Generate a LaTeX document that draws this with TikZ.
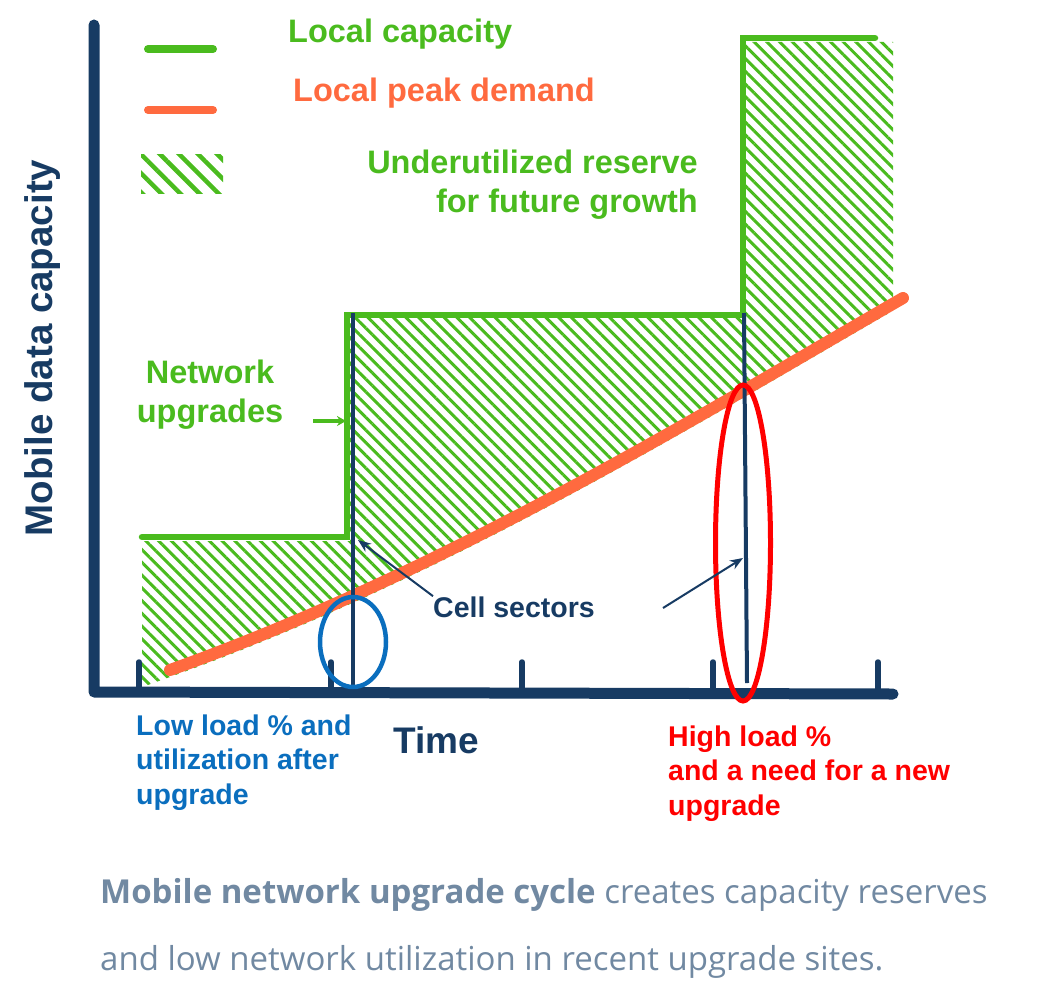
\documentclass[tikz,border=0pt]{standalone}
\usepackage{fontspec}
\setmainfont{Liberation Sans}
\newfontfamily\capfont{Open Sans}
\usetikzlibrary{arrows.meta,patterns.meta,shapes.geometric}
\definecolor{capgreen}{HTML}{4ABB1E}
\definecolor{peakorange}{HTML}{FF6A3F}
\definecolor{axisnavy}{HTML}{173B63}
\definecolor{lowblue}{HTML}{0A6EBE}
\definecolor{highred}{HTML}{FF0000}
\definecolor{captiongray}{HTML}{7189A2}
\begin{document}
\begin{tikzpicture}
[x=1pt,y=-1pt,
legendtext/.style={font=\fontsize{32.5}{39}\selectfont\bfseries,inner sep=0pt},
notetext/.style={font=\fontsize{28.5}{34.5}\selectfont\bfseries,inner sep=0pt,align=left},
axisline/.style={axisnavy,line width=11pt,line cap=round,line join=round},
tickline/.style={axisnavy,line width=5.5pt,line cap=round},
capline/.style={capgreen,line width=6.5pt,line cap=round},
peakline/.style={peakorange,line width=12pt,line cap=round},
reserve/.style={pattern={Lines[angle=-45,distance=9pt,line width=3pt]},pattern color=capgreen},
sector/.style={axisnavy,line width=4pt},
pointer/.style={axisnavy,line width=2pt,-{Stealth[length=13pt,width=10pt]}},
ring/.style={draw,ellipse,inner sep=0pt}]
\useasboundingbox (0,0) rectangle (1056,1006);
% legend
\draw[capgreen,line width=8pt,line cap=round] (148,49) -- (213,49);
\draw[peakorange,line width=8pt,line cap=round] (148,110) -- (213,110);
\fill[pattern={Lines[angle=-45,distance=13.5pt,line width=4.5pt]},pattern color=capgreen]
  (141,154) rectangle (223,193);
\node[legendtext,text=capgreen,anchor=base west] (capkey) at (288,43) {Local capacity};
\node[legendtext,text=peakorange,anchor=base west] (peakkey) at (293,102) {Local peak demand};
\node[legendtext,text=capgreen,anchor=base east,align=right] (reservekey) at (698,212)
  {Underutilized reserve\\for future growth};
% reserve above the demand curve
\begin{scope}
\clip (120,0) -- (120,695) -- (170,677) .. controls (450,577) and (700,422) .. (903,305)
  -- (920,0) -- cycle;
\fill[reserve] (142,541) -- (350,541) -- (350,318) -- (745,318) -- (745,42)
  -- (893,42) -- (893,720) -- (142,720) -- cycle;
\end{scope}
% axes
\draw[axisline] (94,25) -- (94,692) -- (893,694);
\foreach \tx in {139,331,522,713,878}
  \draw[tickline] (\tx,662) -- (\tx,692);
\draw[capline] (142,537) -- (347,537) -- (347,315) -- (743,315) -- (743,38) -- (875,38);
\draw[peakline] (170,670) .. controls (450,570) and (700,415) .. (903,298);
% cell sectors
\coordinate (sec1top) at (353,313);
\coordinate (sec1bot) at (353,690);
\coordinate (sec2top) at (744,313);
\coordinate (sec2bot) at (747,683);
\draw[sector] (sec1top) -- (sec1bot);
\draw[sector] (sec2top) -- (sec2bot);
\node[ring,draw=lowblue,line width=4.5pt,minimum width=66pt,minimum height=90pt] (lowring) at (353,642) {};
\node[ring,draw=highred,line width=5pt,minimum width=55pt,minimum height=316pt] (highring) at (743,543) {};
\node[notetext,text=axisnavy,anchor=base west] (cells) at (433,617) {Cell sectors};
\coordinate (sec1tip) at (358,540);
\coordinate (sec2tail) at (663,608);
\coordinate (sec2tip) at (743,558);
\draw[pointer] (cells.north west) -- (sec1tip);
\draw[pointer] (sec2tail) -- (sec2tip);
% labels
\node[legendtext,text=capgreen,align=center,anchor=base] (upgradetext) at (210,422) {Network\\upgrades};
\coordinate (upgradetail) at (313,421);
\coordinate (upgradetip) at (346,421);
\draw[capgreen,line width=3.5pt,-{Stealth[length=9pt,width=10pt]}] (upgradetail) -- (upgradetip);
\node[font=\fontsize{38.5}{46}\selectfont\bfseries,text=axisnavy,rotate=90,anchor=base,inner sep=0pt]
  (ylabel) at (52,348) {Mobile data capacity};
\node[font=\fontsize{37}{44}\selectfont\bfseries,text=axisnavy,anchor=base west,inner sep=0pt]
  (timelabel) at (393,753) {Time};
\node[notetext,text=lowblue,anchor=base west] (lowload) at (136,804)
  {Low load \% and\\utilization after\\upgrade};
\node[notetext,text=highred,anchor=base west] (highload) at (668,815)
  {High load \%\\and a need for a new\\upgrade};
\node[font=\capfont\fontsize{33}{67}\selectfont,text=captiongray,align=left,anchor=base west,inner sep=0pt]
  (caption) at (100,970)
  {\textbf{Mobile network upgrade cycle} creates capacity reserves\\and low network utilization in recent upgrade sites.};
\end{tikzpicture}
\end{document}
